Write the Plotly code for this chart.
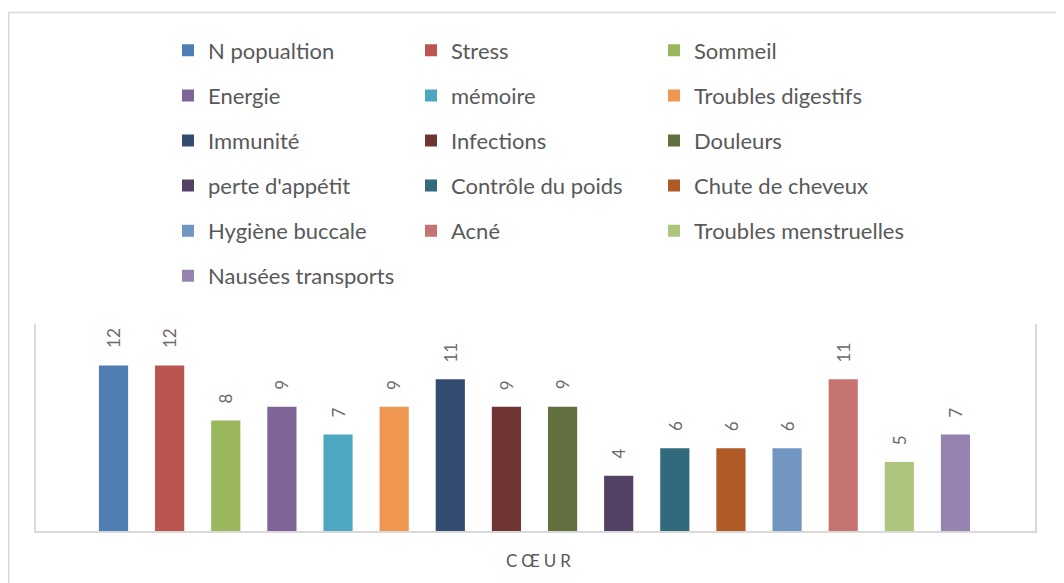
import plotly.graph_objects as go

# ---- data ----
series_names = [
    "N popualtion", "Stress", "Sommeil", "Energie", "mémoire", "Troubles digestifs",
    "Immunité", "Infections", "Douleurs", "perte d'appétit", "Contrôle du poids",
    "Chute de cheveux", "Hygiène buccale", "Acné", "Troubles menstruelles",
    "Nausées transports",
]
values = [12, 12, 8, 9, 7, 9, 11, 9, 9, 4, 6, 6, 6, 11, 5, 7]
category = "CŒUR"
colors = [
    "#4F7DB4", "#BC5452", "#9BB75E", "#7F6499", "#4DA7C0", "#EF9650",
    "#334D72", "#6E3532", "#626F3E", "#544265", "#31697D", "#B05A28",
    "#7196C2", "#C67471", "#AEC57E", "#9683B0",
]

# ---- layout geometry ----
# the page adds an 8px body margin, so the figure is drawn 8px smaller
OFF = 8
W, H = 1064 - OFF, 583 - OFF
L, R, T, B = 28, 29, 316, 52
pw, ph = W - L - R, H - T - B


def px_x(px):  # screen pixel -> paper
    return (px - OFF - L) / pw


def px_y(py):  # screen pixel -> paper
    return (H - B - (py - OFF)) / ph


TEXT = "#595959"
FONT = "Lato"

fig = go.Figure()
n = len(values)
for i, (name, v, c) in enumerate(zip(series_names, values, colors)):
    leg = ["legend", "legend2", "legend3"][i % 3]
    fig.add_trace(go.Bar(
        x=[i], y=[v], name=name, width=0.52,
        marker=dict(color=c, line=dict(width=0)),
        legend=leg, legendgroup=name,
        hoverinfo="name+y",
    ))
    fig.add_annotation(
        x=i, y=v, text=str(v), textangle=-90, showarrow=False,
        yanchor="bottom", xanchor="center", yshift=15,
        font=dict(family=FONT, size=17, color="#6a6a6a"),
    )

legend_common = dict(
    orientation="v", yanchor="top", xanchor="left",
    font=dict(family=FONT, size=22, color=TEXT),
    bgcolor="rgba(0,0,0,0)", borderwidth=0, tracegroupgap=13.5,
    itemclick=False, itemdoubleclick=False,
)
col_x = [182, 425, 668]
legend_top = 29.5
fig.update_layout(
    legend=dict(x=px_x(col_x[0] - 14), y=px_y(legend_top), **legend_common),
    legend2=dict(x=px_x(col_x[1] - 14), y=px_y(legend_top), **legend_common),
    legend3=dict(x=px_x(col_x[2] - 14), y=px_y(legend_top), **legend_common),
)

fig.update_layout(
    width=W, height=H,
    margin=dict(l=L, r=R, t=T, b=B, pad=0),
    paper_bgcolor="white", plot_bgcolor="white",
    showlegend=True,
    font=dict(family=FONT, color=TEXT),
    xaxis=dict(
        range=[-1.381, n - 1 + 1.417],
        tickvals=[(n - 1) / 2],
        ticktext=['<span style="letter-spacing:4px">%s</span>' % category],
        ticks="", showgrid=False, zeroline=False,
        showline=True, linecolor="#d9d9d9", linewidth=1.5,
        tickfont=dict(family=FONT, size=17, color=TEXT),
        ticklabelstandoff=14, ticklabelshift=6, fixedrange=True,
    ),
    yaxis=dict(
        range=[0, 15], showticklabels=False, ticks="", showgrid=False,
        zeroline=False, showline=True, mirror=True,
        linecolor="#d9d9d9", linewidth=1.5, fixedrange=True,
    ),
    shapes=[
        dict(type="line", xref="paper", yref="paper",
             x0=px_x(8), x1=px_x(1070), y0=px_y(12.5), y1=px_y(12.5),
             line=dict(color="#d9d9d9", width=1.5)),
        dict(type="line", xref="paper", yref="paper",
             x0=px_x(8.75), x1=px_x(8.75), y0=px_y(12), y1=px_y(600),
             line=dict(color="#d9d9d9", width=1.5)),
    ],
)

fig.write_html("out.html")
